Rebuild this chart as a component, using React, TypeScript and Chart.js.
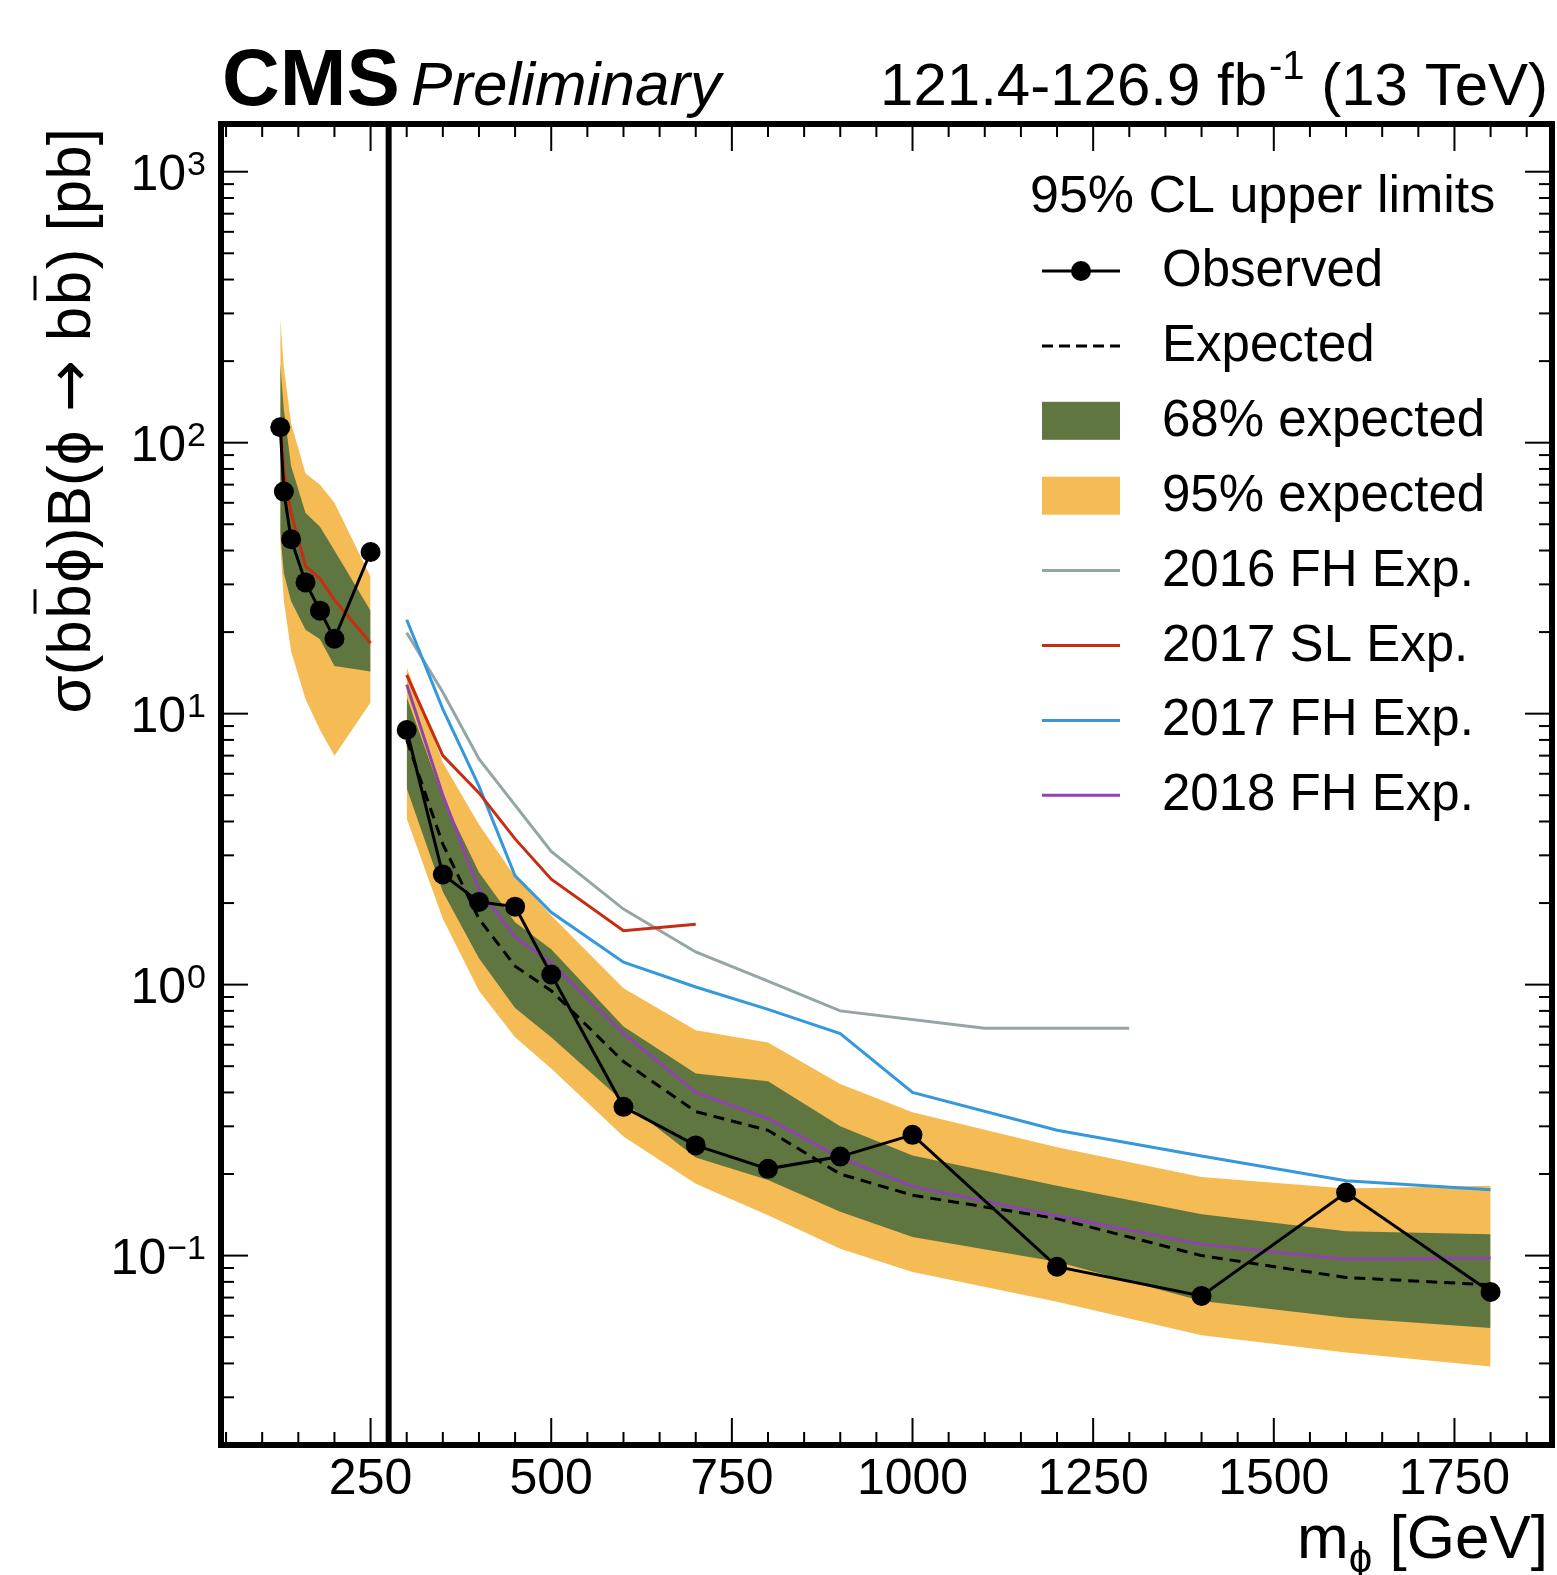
import React, { useEffect, useRef } from "react";
import { Chart, registerables } from "chart.js";

Chart.register(...registerables);

const FONT = '"Liberation Sans", Arial, Helvetica, sans-serif';

// ---- masses (GeV) ----
const massLow = [125, 130, 140, 160, 180, 200, 250];
const massHigh = [300, 350, 400, 450, 500, 600, 700, 800, 900, 1000, 1200, 1400, 1600, 1800];
const mass2016 = [300, 350, 400, 500, 600, 700, 800, 900, 1100, 1300];
const massSL2017High = [300, 350, 400, 450, 500, 600, 700];

// ---- observed limits (pb) ----
const obsLow = [114, 66, 44, 30.5, 24, 18.9, 39.5];
const obsHigh = [8.7, 2.55, 2.02, 1.94, 1.09, 0.354, 0.255, 0.209, 0.232, 0.279, 0.091, 0.071, 0.171, 0.0734];

// ---- expected limit (pb) ----
const expHigh = [8.0, 3.3, 1.75, 1.17, 0.95, 0.52, 0.34, 0.29, 0.2, 0.167, 0.137, 0.1, 0.083, 0.078];

// ---- bands (pb) ----
const band68UpLow = [196, 132, 82, 55, 49, 40, 24];
const band68DnLow = [46.5, 33, 26, 20.4, 18.8, 15, 14.3];
const band95UpLow = [287, 190, 118, 77, 70, 60, 32];
const band95DnLow = [42.5, 26, 17, 11.3, 8.7, 7.0, 11.0];

const band68UpHigh = [11.5, 4.9, 2.6, 1.7, 1.35, 0.7, 0.47, 0.44, 0.3, 0.234, 0.181, 0.142, 0.123, 0.12];
const band68DnHigh = [5.3, 2.2, 1.25, 0.82, 0.64, 0.37, 0.23, 0.19, 0.145, 0.117, 0.095, 0.068, 0.059, 0.054];
const band95UpHigh = [14.8, 6.6, 3.9, 2.5, 1.8, 0.97, 0.678, 0.612, 0.43, 0.338, 0.251, 0.195, 0.177, 0.181];
const band95DnHigh = [4.1, 1.75, 0.95, 0.64, 0.49, 0.275, 0.184, 0.141, 0.106, 0.087, 0.0675, 0.0508, 0.0439, 0.039];

// ---- previous analyses, expected (pb) ----
const fh2016 = [19.9, 12, 6.8, 3.1, 1.9, 1.32, 1.03, 0.8, 0.69, 0.69];
const sl2017Low = [123, 78, 55, 35, 31.5, 26.3, 18.2];
const sl2017High = [13.9, 7.0, 5.1, 3.45, 2.45, 1.58, 1.67];
const fh2017 = [22.2, 10.4, 5.4, 2.52, 1.85, 1.21, 0.98, 0.81, 0.66, 0.4, 0.29, 0.233, 0.189, 0.175];
const fh2018 = [12.8, 5.0, 2.25, 1.5, 1.2, 0.66, 0.4, 0.32, 0.23, 0.18, 0.14, 0.11, 0.097, 0.098];

// ---- axes ----
const xTickValues = [250, 500, 750, 1000, 1250, 1500, 1750];
const yTickValues = [0.1, 1, 10, 100, 1000];
const yTickBase = "10";
const yTickExponents = ["\u22121", "0", "1", "2", "3"];
const X_MIN = 43;
const X_MAX = 1885;
const Y_MIN = 0.02;
const Y_MAX = 1500;
const SEPARATOR_MASS = 275;

// ---- colours ----
const C_GREEN = "#607641";
const C_YELLOW = "#F5BB54";
const C_GRAY = "#95a5a6";
const C_RED = "#c62d12";
const C_BLUE = "#3498db";
const C_PURPLE = "#8e44ad";

const legendHeader = "95% CL upper limits";
const legendEntries = [
  { label: "Observed", kind: "obs", color: "#000" },
  { label: "Expected", kind: "dash", color: "#000" },
  { label: "68% expected", kind: "box", color: C_GREEN },
  { label: "95% expected", kind: "box", color: C_YELLOW },
  { label: "2016 FH Exp.", kind: "line", color: C_GRAY },
  { label: "2017 SL Exp.", kind: "line", color: C_RED },
  { label: "2017 FH Exp.", kind: "line", color: C_BLUE },
  { label: "2018 FH Exp.", kind: "line", color: C_PURPLE },
];

const pts = (xs: number[], ys: number[]) => xs.map((x, i) => ({ x, y: ys[i] }));

const overlay = {
  id: "cmsOverlay",
  afterDraw(chart: any) {
    const { ctx, chartArea: ca, scales } = chart;
    const xs = scales.x;
    const ys = scales.y;
    ctx.save();
    const line = (x1: number, y1: number, x2: number, y2: number) => {
      ctx.beginPath();
      ctx.moveTo(x1, y1);
      ctx.lineTo(x2, y2);
      ctx.stroke();
    };
    ctx.strokeStyle = "#000";
    ctx.lineWidth = 2;
    // x ticks (inward, bottom and top)
    for (let v = 50; v < X_MAX; v += 50) {
      const px = xs.getPixelForValue(v);
      const len = v % 250 === 0 ? 27 : 13;
      line(px, ca.bottom, px, ca.bottom - len);
      line(px, ca.top, px, ca.top + len);
    }
    // y ticks (inward, left and right)
    for (let e = -2; e <= 3; e++) {
      for (let m = 1; m <= 9; m++) {
        const v = m * Math.pow(10, e);
        if (v < Y_MIN || v > Y_MAX) continue;
        const py = ys.getPixelForValue(v);
        const len = m === 1 ? 27 : 13;
        line(ca.left, py, ca.left + len, py);
        line(ca.right, py, ca.right - len, py);
      }
    }
    // separator line
    ctx.lineWidth = 6;
    const sx = xs.getPixelForValue(SEPARATOR_MASS);
    line(sx, ca.top, sx, ca.bottom);
    // frame
    ctx.strokeRect(ca.left, ca.top, ca.right - ca.left, ca.bottom - ca.top);

    ctx.fillStyle = "#000";
    ctx.textBaseline = "alphabetic";

    // y tick labels 10^n
    const labelRight = ca.left - 15;
    yTickValues.forEach((v, i) => {
      const py = ys.getPixelForValue(v);
      ctx.font = `34px ${FONT}`;
      const we = ctx.measureText(yTickExponents[i]).width;
      ctx.textAlign = "right";
      ctx.fillText(yTickExponents[i], labelRight, py + 3);
      ctx.font = `50px ${FONT}`;
      ctx.fillText(yTickBase, labelRight - we - 1, py + 18);
    });
    ctx.textAlign = "left";

    // ---- texts ----
    ctx.font = `bold 80px ${FONT}`;
    ctx.fillText("CMS", 222, 105);
    ctx.font = `italic 62px ${FONT}`;
    ctx.fillText("Preliminary", 411, 105);

    // lumi
    const p1 = "121.4-126.9 fb";
    const p2 = "-1";
    const p3 = " (13 TeV)";
    ctx.font = `60px ${FONT}`;
    const w1 = ctx.measureText(p1).width;
    const w3 = ctx.measureText(p3).width;
    ctx.font = `40px ${FONT}`;
    const w2 = ctx.measureText(p2).width;
    const lx = 1548 - (w1 + w2 + w3 + 2);
    ctx.font = `60px ${FONT}`;
    ctx.fillText(p1, lx, 105);
    ctx.font = `40px ${FONT}`;
    ctx.fillText(p2, lx + w1 + 2, 79);
    ctx.font = `60px ${FONT}`;
    ctx.fillText(p3, lx + w1 + w2 + 2, 105);

    // x title
    ctx.font = `62px ${FONT}`;
    const wm = ctx.measureText("m").width;
    const wg = ctx.measureText(" [GeV]").width;
    ctx.font = `42px ${FONT}`;
    const wphi = ctx.measureText("\u03D5").width;
    const tx = 1548 - (wm + wphi + wg);
    ctx.font = `62px ${FONT}`;
    ctx.fillText("m", tx, 1558);
    ctx.font = `42px ${FONT}`;
    ctx.fillText("\u03D5", tx + wm, 1572);
    ctx.font = `62px ${FONT}`;
    ctx.fillText(" [GeV]", tx + wm + wphi, 1558);

    // y title (rotated), segments with overbars
    const F_MAIN = `62px ${FONT}`;
    const F_ARROW = `62px "DejaVu Sans", ${FONT}`;
    const segs = [
      { t: "\u03C3(b", bar: false, f: F_MAIN },
      { t: "b", bar: true, f: F_MAIN },
      { t: "\u03D5)B(\u03D5 ", bar: false, f: F_MAIN },
      { t: "\u2192", bar: false, f: F_ARROW },
      { t: " b", bar: false, f: F_MAIN },
      { t: "b", bar: true, f: F_MAIN },
      { t: ") [pb]", bar: false, f: F_MAIN },
    ];
    ctx.save();
    ctx.translate(90, 128);
    ctx.rotate(-Math.PI / 2);
    const widths = segs.map((g) => {
      ctx.font = g.f;
      return ctx.measureText(g.t).width;
    });
    const gap = 1.5;
    const total = widths.reduce((a, b) => a + b, 0) + gap * (segs.length - 1);
    let cx = -total;
    ctx.lineWidth = 3;
    segs.forEach((g, i) => {
      ctx.font = g.f;
      ctx.fillText(g.t, cx, 0);
      if (g.bar) line(cx + 5, -55, cx + widths[i] - 5, -55);
      cx += widths[i] + gap;
    });
    ctx.restore();

    // ---- legend ----
    ctx.font = `52px ${FONT}`;
    ctx.textBaseline = "middle";
    ctx.fillText(legendHeader, 1030, 198);
    ctx.font = `51px ${FONT}`;
    const sx0 = 1042;
    const sx1 = 1120;
    const textX = 1162;
    const row0 = 271;
    const step = 74.9;
    legendEntries.forEach((e, i) => {
      const cy = row0 + i * step;
      ctx.strokeStyle = e.color;
      ctx.fillStyle = e.color;
      ctx.setLineDash([]);
      if (e.kind === "box") {
        ctx.fillRect(sx0, cy - 19, sx1 - sx0, 38);
      } else if (e.kind === "dash") {
        ctx.lineWidth = 3;
        ctx.setLineDash([11, 6]);
        line(sx0, cy, sx1, cy);
        ctx.setLineDash([]);
      } else if (e.kind === "obs") {
        ctx.lineWidth = 3;
        line(sx0, cy, sx1, cy);
        ctx.beginPath();
        ctx.arc((sx0 + sx1) / 2, cy, 10, 0, Math.PI * 2);
        ctx.fill();
      } else {
        ctx.lineWidth = 3;
        line(sx0, cy, sx1, cy);
      }
      ctx.fillStyle = "#000";
      ctx.fillText(e.label, textX, cy + 1);
    });
    ctx.restore();
  },
};

export default function App() {
  const ref = useRef<HTMLCanvasElement>(null);
  useEffect(() => {
    document.body.style.margin = "0";
    const canvas = ref.current;
    if (!canvas) return;
    const datasets: any[] = [];
    const band = (xs: number[], up: number[], dn: number[], color: string, order: number) => {
      const lowIdx = datasets.length + 1;
      datasets.push({
        data: pts(xs, up),
        borderWidth: 0,
        borderColor: "rgba(0,0,0,0)",
        pointRadius: 0,
        backgroundColor: color,
        fill: { target: lowIdx, above: color, below: color },
        order,
      });
      datasets.push({
        data: pts(xs, dn),
        borderWidth: 0,
        borderColor: "rgba(0,0,0,0)",
        pointRadius: 0,
        fill: false,
        order,
      });
    };
    band(massLow, band95UpLow, band95DnLow, C_YELLOW, 20);
    band(massHigh, band95UpHigh, band95DnHigh, C_YELLOW, 20);
    band(massLow, band68UpLow, band68DnLow, C_GREEN, 19);
    band(massHigh, band68UpHigh, band68DnHigh, C_GREEN, 19);
    const lineDs = (xs: number[], ys: number[], color: string, order: number, extra: any = {}) => ({
      data: pts(xs, ys),
      borderColor: color,
      borderWidth: 3,
      pointRadius: 0,
      fill: false,
      tension: 0,
      order,
      ...extra,
    });
    datasets.push(lineDs(massHigh, expHigh, "#000", 8, { borderDash: [11, 7] }));
    datasets.push(lineDs(mass2016, fh2016, C_GRAY, 6));
    datasets.push(lineDs(massHigh, fh2017, C_BLUE, 5));
    datasets.push(lineDs(massSL2017High, sl2017High, C_RED, 4));
    datasets.push(lineDs(massLow, sl2017Low, C_RED, 2));
    datasets.push(lineDs(massHigh, fh2018, C_PURPLE, 3));
    const obs = (xs: number[], ys: number[]) =>
      lineDs(xs, ys, "#000", 1, {
        pointRadius: 10,
        pointBackgroundColor: "#000",
        pointBorderWidth: 0,
      });
    datasets.push(obs(massHigh, obsHigh));
    datasets.push(obs(massLow, obsLow));

    const chart = new Chart(canvas, {
      type: "line",
      data: { datasets },
      options: {
        responsive: false,
        devicePixelRatio: 1,
        animation: false,
        layout: { autoPadding: false, padding: { top: 124, right: 5, left: 0, bottom: 0 } },
        plugins: { legend: { display: false }, tooltip: { enabled: false } },
        scales: {
          x: {
            type: "linear",
            min: X_MIN,
            max: X_MAX,
            grid: { display: false, drawTicks: false },
            border: { display: false },
            afterBuildTicks: (s: any) => {
              s.ticks = xTickValues.map((v) => ({ value: v }));
            },
            afterFit: (s: any) => {
              s.height = 130;
              s.paddingLeft = 0;
              s.paddingRight = 0;
            },
            ticks: {
              autoSkip: false,
              maxRotation: 0,
              padding: 5,
              color: "#000",
              font: { family: FONT, size: 50 },
              callback: (v: any) => String(v),
            },
          },
          y: {
            type: "logarithmic",
            min: Y_MIN,
            max: Y_MAX,
            grid: { display: false, drawTicks: false },
            border: { display: false },
            afterBuildTicks: (s: any) => {
              s.ticks = yTickValues.map((v) => ({ value: v }));
            },
            afterFit: (s: any) => {
              s.width = 221;
              s.paddingTop = 0;
              s.paddingBottom = 0;
            },
            ticks: { display: false },
          },
        },
      },
      plugins: [overlay],
    });
    return () => chart.destroy();
  }, []);
  return (
    <canvas
      ref={ref}
      width={1557}
      height={1575}
      style={{ display: "block", width: 1557, height: 1575 }}
    />
  );
}
